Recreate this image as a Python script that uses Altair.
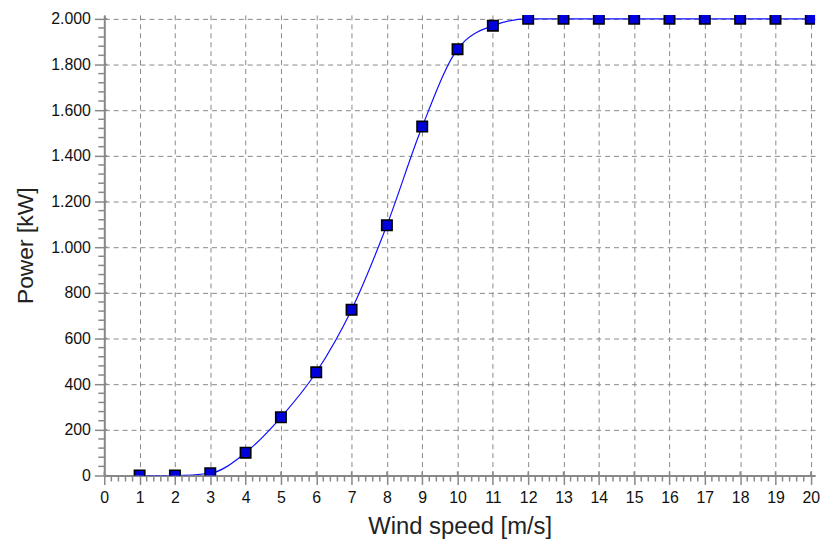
import altair as alt
import pandas as pd

# data
wind_speed = [1, 2, 3, 4, 5, 6, 7, 8, 9, 10, 11, 12, 13, 14, 15, 16, 17, 18, 19, 20]
power_kw = [0, 0, 10, 100, 255, 452, 726, 1096, 1528, 1867, 1970,
            2000, 2000, 2000, 2000, 2000, 2000, 2000, 2000, 2000]

x_major = list(range(0, 21))
y_major = list(range(0, 2001, 200))
x_minor = [i / 5 for i in range(0, 101) if i % 5 != 0]
y_minor = [v for v in range(0, 2001, 40) if v % 200 != 0]

W, H = 716, 464
AXIS_COLOR = "#888888"
FONT = "Liberation Sans"

df = pd.DataFrame({"wind": wind_speed, "power": power_kw})

x_scale = alt.Scale(domain=[0, 20.12], nice=False, zero=False)
y_scale = alt.Scale(domain=[0, 2017], nice=False, zero=False)

x_axis = alt.Axis(
    values=x_major, title="Wind speed [m/s]", grid=True, gridColor=AXIS_COLOR,
    gridDash=[5, 4], gridWidth=1, domainColor=AXIS_COLOR, domainWidth=2,
    tickColor=AXIS_COLOR, tickSize=9, tickWidth=1.5, labelFont=FONT,
    labelFontSize=16, labelColor="#111111", labelPadding=5, labelFlush=False,
    titleFont=FONT, titleFontSize=24, titleFontWeight="normal",
    titleColor="#222222", titlePadding=9,
)
y_axis = alt.Axis(
    values=y_major, title="Power [kW]", grid=True, gridColor=AXIS_COLOR,
    gridDash=[5, 4], gridWidth=1, domainColor=AXIS_COLOR, domainWidth=2,
    tickColor=AXIS_COLOR, tickSize=10, tickWidth=1.5, labelFont=FONT,
    labelFontSize=16, labelColor="#111111", labelPadding=4, labelFlush=False,
    labelExpr="replace(format(datum.value, ','), ',', '.')",
    titleFont=FONT, titleFontSize=23, titleFontWeight="normal",
    titleColor="#222222", titlePadding=13,
)


def X(field):
    return alt.X(field, type="quantitative", scale=x_scale, axis=x_axis)


def Y(field):
    return alt.Y(field, type="quantitative", scale=y_scale, axis=y_axis)


base = alt.Chart(df)

line = base.mark_line(color="#1010ff", strokeWidth=1.2, interpolate="monotone", clip=True).encode(
    x=X("wind"), y=Y("power"))
points = base.mark_point(shape="square", filled=True, size=110, color="#0000dd",
                         stroke="#000000", strokeWidth=1.6, opacity=1, clip=True).encode(
    x=X("wind"), y=Y("power"))

tick_style = dict(color=AXIS_COLOR, strokeWidth=1.5)

x_minor_ticks = alt.Chart(pd.DataFrame({"wind": x_minor})).mark_rule(**tick_style).encode(
    x=X("wind"), y=alt.value(H), y2=alt.value(H + 6))
y_minor_ticks = alt.Chart(pd.DataFrame({"power": y_minor})).mark_rule(**tick_style).encode(
    y=Y("power"), x=alt.value(0), x2=alt.value(-6))
x_major_inner = alt.Chart(pd.DataFrame({"wind": x_major})).mark_rule(**tick_style).encode(
    x=X("wind"), y=alt.value(H), y2=alt.value(H - 4))
y_major_inner = alt.Chart(pd.DataFrame({"power": y_major})).mark_rule(**tick_style).encode(
    y=Y("power"), x=alt.value(0), x2=alt.value(3))

chart = alt.layer(
    line, x_minor_ticks, y_minor_ticks, x_major_inner, y_major_inner, points
).properties(
    width=W, height=H,
    autosize=alt.AutoSizeParams(type="none"),
    padding={"left": 97, "top": 5, "right": 5, "bottom": 62},
    background="white",
).configure_view(stroke=None)

chart.save("out.html", embed_options={"renderer": "svg", "actions": False})
